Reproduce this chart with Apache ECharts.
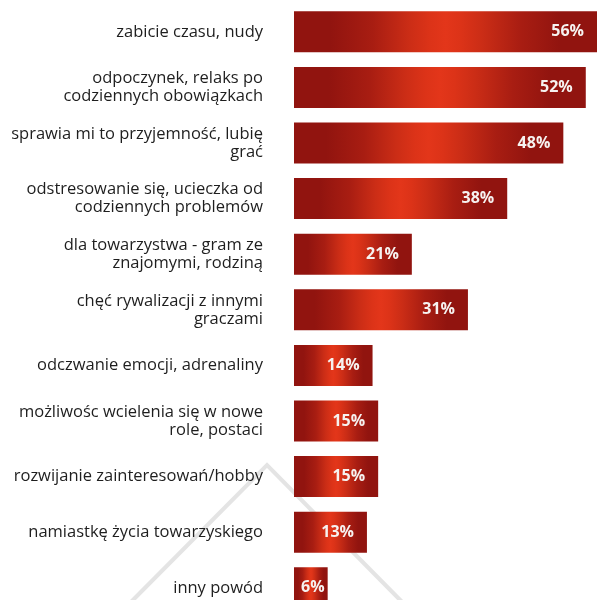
<!DOCTYPE html>
<html>
<head>
<meta charset="utf-8">
<script src="https://cdn.jsdelivr.net/npm/echarts@6/dist/echarts.min.js"></script>
<style>
  html, body { margin: 0; padding: 0; background: #fff; overflow: hidden; }
  /* taller than the window: the last bar runs past the bottom edge, as in the source */
  #chart { width: 597px; height: 620px; }
</style>
</head>
<body>
<div id="chart"></div>
<script>
// Reasons for playing, share of respondents (%)
const categories = [
  'zabicie czasu, nudy',
  'odpoczynek, relaks po\ncodziennych obowiązkach',
  'sprawia mi to przyjemność, lubię\ngrać',
  'odstresowanie się, ucieczka od\ncodziennych problemów',
  'dla towarzystwa - gram ze\nznajomymi, rodziną',
  'chęć rywalizacji z innymi\ngraczami',
  'odczwanie emocji, adrenaliny',
  'możliwośc wcielenia się w nowe\nrole, postaci',
  'rozwijanie zainteresowań/hobby',
  'namiastkę życia towarzyskiego',
  'inny powód'
]
const values = [56, 52, 48, 38, 21, 31, 14, 15, 15, 13, 6]

const dark = '#91140f'
const bright = '#e3361a'

const chart = echarts.init(document.getElementById('chart'))

// very short bars keep their label closer to the end
const barData = values.map(v => v < 10 ? { value: v, label: { distance: 3 } } : v)

const option = {
  backgroundColor: '#fff',
  animation: false,
  textStyle: { fontFamily: '"Open Sans", sans-serif' },
  // faint watermark chevron behind the bars
  graphic: [{
    type: 'polyline',
    z: -10,
    silent: true,
    shape: { points: [[128, 605], [267, 465], [410, 610]] },
    style: { stroke: '#e4e4e4', lineWidth: 4, fill: null }
  }],
  grid: { left: 294, right: 0, top: 4, bottom: 4.4, containLabel: false },
  xAxis: {
    type: 'value',
    min: 0,
    max: 54,
    show: false
  },
  yAxis: {
    type: 'category',
    data: categories,
    inverse: true,
    axisLine: { show: false },
    axisTick: { show: false },
    axisLabel: {
      margin: 31,
      color: '#1e1e1e',
      fontSize: 16.5,
      lineHeight: 18,
      align: 'right',
      fontFamily: '"Open Sans", sans-serif'
    }
  },
  series: [{
    type: 'bar',
    data: barData,
    barWidth: 41,
    itemStyle: {
      color: {
        type: 'linear', x: 0, y: 0, x2: 1, y2: 0,
        colorStops: [
          { offset: 0, color: dark },
          { offset: 0.12, color: dark },
          { offset: 0.26, color: '#a81d12' },
          { offset: 0.38, color: '#cb2d16' },
          { offset: 0.45, color: '#dc3318' },
          { offset: 0.5, color: bright },
          { offset: 0.55, color: '#dc3318' },
          { offset: 0.62, color: '#cb2d16' },
          { offset: 0.75, color: '#a81d12' },
          { offset: 0.88, color: dark },
          { offset: 1, color: dark }
        ]
      }
    },
    label: {
      show: true,
      position: 'insideRight',
      distance: 13,
      color: '#f6f2f0',
      fontSize: 16,
      fontWeight: 'bold',
      fontFamily: '"Open Sans", sans-serif',
      formatter: p => p.value + '%'
    }
  }]
}

chart.setOption(option)
window.addEventListener('resize', () => chart.resize())
</script>
</body>
</html>
